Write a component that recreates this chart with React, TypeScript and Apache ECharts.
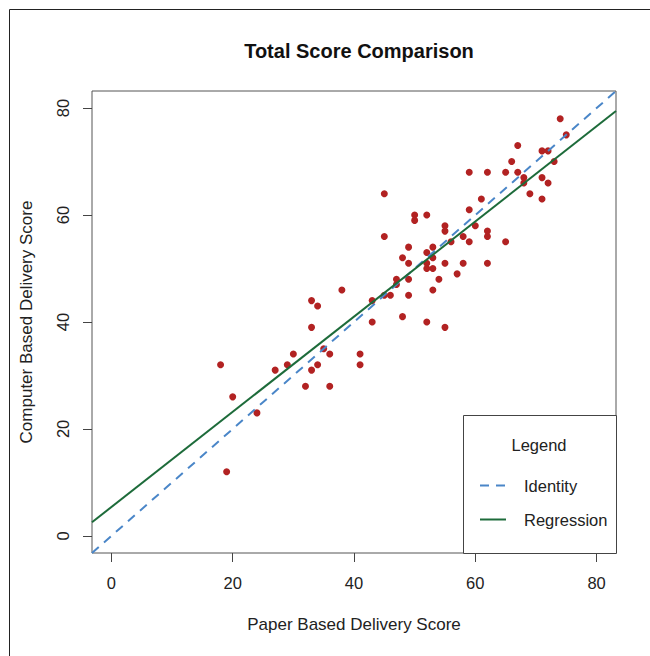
import React, { useEffect, useRef } from "react";
import * as echarts from "echarts";

const paperScores = [
  18, 19, 20, 24, 27, 29, 30, 32, 33, 33, 33, 34, 34, 35, 36, 36, 38, 41, 41, 43,
  43, 45, 46, 45, 45, 47, 47, 48, 48, 49, 49, 49, 49, 50, 50, 52, 52, 52, 52, 52,
  53, 53, 53, 53, 54, 55, 55, 55, 55, 56, 57, 58, 58, 59, 59, 59, 60, 61, 62, 62,
  62, 62, 65, 65, 66, 67, 67, 68, 68, 69, 71, 72, 71, 72, 71, 73, 74, 75,
];
const computerScores = [
  32, 12, 26, 23, 31, 32, 34, 28, 31, 39, 44, 32, 43, 35, 34, 28, 46, 34, 32, 44,
  40, 45, 45, 64, 56, 48, 47, 52, 41, 54, 51, 48, 45, 60, 59, 60, 53, 51, 50, 40,
  54, 52, 50, 46, 48, 58, 57, 51, 39, 55, 49, 56, 51, 68, 61, 55, 58, 63, 68, 57,
  56, 51, 68, 55, 70, 73, 68, 67, 66, 64, 72, 72, 67, 66, 63, 70, 78, 75,
];
const xTicks = [0, 20, 40, 60, 80];
const yTicks = [0, 20, 40, 60, 80];
const axisMin = -3.2;
const axisMax = 83.2;
const regressionIntercept = 5.4;
const regressionSlope = 0.89;
const legendNames = ["Identity", "Regression"];

const FONT = "Liberation Sans, Arial, sans-serif";
const TEXT = "#222";

export default function App() {
  const ref = useRef<HTMLDivElement>(null);
  useEffect(() => {
    if (!ref.current) return;
    const chart = echarts.init(ref.current, null, { renderer: "svg" });
    const points = paperScores.map((x, i) => [x, computerScores[i]]);
    const identity = [
      [axisMin, axisMin],
      [axisMax, axisMax],
    ];
    const regression = [
      [axisMin, regressionIntercept + regressionSlope * axisMin],
      [axisMax, regressionIntercept + regressionSlope * axisMax],
    ];
    chart.setOption({
      animation: false,
      textStyle: { fontFamily: FONT },
      title: {
        text: "Total Score Comparison",
        left: 354,
        top: 36,
        textAlign: "center",
        textStyle: { fontSize: 20, fontWeight: "bold", color: "#111", fontFamily: FONT },
      },
      grid: {
        left: 92,
        top: 91,
        width: 524,
        height: 462,
        show: true,
        borderColor: "#555",
        borderWidth: 1,
        backgroundColor: "transparent",
      },
      xAxis: {
        type: "value",
        min: axisMin,
        max: axisMax,
        name: "Paper Based Delivery Score",
        nameLocation: "middle",
        nameGap: 63,
        nameTextStyle: { fontSize: 17, color: TEXT, fontFamily: FONT },
        axisLine: { show: false, onZero: false },
        splitLine: { show: false },
        axisTick: {
          show: true,
          inside: false,
          length: 9,
          customValues: xTicks,
          lineStyle: { color: "#444" },
        },
        axisLabel: {
          customValues: xTicks,
          margin: 21,
          fontSize: 16.5,
          color: TEXT,
          fontFamily: FONT,
        },
      },
      yAxis: {
        type: "value",
        min: axisMin,
        max: axisMax,
        name: "Computer Based Delivery Score",
        nameLocation: "middle",
        nameGap: 57,
        nameRotate: 90,
        nameTextStyle: { fontSize: 17, color: TEXT, fontFamily: FONT },
        axisLine: { show: false, onZero: false },
        splitLine: { show: false },
        axisTick: {
          show: true,
          inside: false,
          length: 9,
          customValues: yTicks,
          lineStyle: { color: "#444" },
        },
        axisLabel: {
          customValues: yTicks,
          rotate: 90,
          margin: 21,
          fontSize: 16.5,
          color: TEXT,
          fontFamily: FONT,
        },
      },
      legend: {
        data: legendNames,
        orient: "vertical",
        left: 479,
        top: 477,
        padding: 0,
        itemWidth: 26,
        itemHeight: 14,
        itemGap: 17,
        z: 10,
        itemStyle: { opacity: 0 },
        textStyle: { fontSize: 16.5, color: TEXT, fontFamily: FONT, padding: [0, 0, 0, 13] },
      },
      graphic: [
        {
          type: "rect",
          z: 1,
          shape: { x: 9.5, y: 9.5, width: 700, height: 700 },
          style: { fill: "none", stroke: "#222", lineWidth: 1 },
        },
        {
          type: "rect",
          z: 5,
          shape: { x: 463.5, y: 415.5, width: 153, height: 138 },
          style: { fill: "#fff", stroke: "#444", lineWidth: 1 },
        },
        {
          type: "text",
          z: 6,
          x: 539,
          y: 445,
          style: {
            text: "Legend",
            fontSize: 16.5,
            fill: TEXT,
            fontFamily: FONT,
            align: "center",
            verticalAlign: "middle",
          },
        },
      ],
      series: [
        {
          name: "Scores",
          type: "scatter",
          data: points,
          symbol: "circle",
          symbolSize: 7,
          itemStyle: { color: "#b22222", opacity: 1 },
          z: 2,
        },
        {
          name: "Identity",
          type: "line",
          data: identity,
          symbol: "none",
          clip: true,
          lineStyle: { color: "#4a86c8", width: 2, type: [9, 7] },
          itemStyle: { color: "#4a86c8" },
          z: 3,
        },
        {
          name: "Regression",
          type: "line",
          data: regression,
          symbol: "none",
          clip: true,
          lineStyle: { color: "#1d6b3a", width: 2 },
          itemStyle: { color: "#1d6b3a" },
          z: 3,
        },
      ],
    });
    return () => chart.dispose();
  }, []);
  return <div ref={ref} style={{ width: 650, height: 656, position: "absolute", left: 0, top: 0 }} />;
}
